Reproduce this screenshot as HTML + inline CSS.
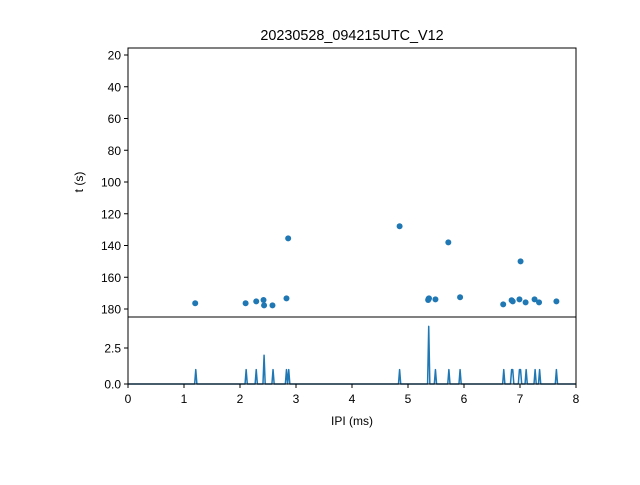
<!DOCTYPE html>
<html><head><meta charset="utf-8"><style>
body{margin:0;background:#fff}
svg text{font-family:"Liberation Sans","DejaVu Sans",sans-serif;fill:#000}
</style></head><body>
<svg id="c" width="640" height="480" xmlns="http://www.w3.org/2000/svg"></svg>
<script>
const ipi=[1.20,2.10,2.29,2.42,2.43,2.58,2.83,2.86,4.85,5.72,5.36,5.365,5.37,5.375,5.49,5.93,6.70,6.85,6.87,6.99,7.01,7.10,7.26,7.34,7.65];
const tsec=[176.4,176.4,175.2,174.3,177.7,177.7,173.3,135.5,127.9,138.0,174.3,173.8,173.5,173.3,173.9,172.6,177.1,174.5,175.2,173.9,150.0,175.8,173.9,175.8,175.2];
const xTicks=[0,1,2,3,4,5,6,7,8];
const tTicks=[20,40,60,80,100,120,140,160,180];
const cTicks=[0,2.5];
const binW=0.02;
const NS="http://www.w3.org/2000/svg";
const svg=document.getElementById('c');
const L=128,R=576,T1=48,B1=317,B2=384;
const xs=v=>L+(v-0)/8*(R-L);
const ts=v=>55+(v-20)*1.5875;
const cs=v=>B2-v*14.4;
function mk(tag,attrs,parent){const e=document.createElementNS(NS,tag);for(const k in attrs)e.setAttribute(k,attrs[k]);(parent||svg).appendChild(e);return e;}
// scatter
const g1=mk('g',{});


ipi.forEach((x,i)=>{const c=mk('circle',{cx:xs(x),cy:ts(tsec[i]),r:3,fill:'#1f77b4'},g1);

});
// histogram
const nb=Math.round(8/binW);const counts=new Array(nb).fill(0);
ipi.forEach(x=>{const b=Math.floor(x/binW+1e-9);if(b>=0&&b<nb)counts[b]++;});
let d='';for(let b=0;b<nb;b++){const x=xs((b+0.5)*binW),y=cs(counts[b]);d+=(b?'L':'M')+x.toFixed(2)+' '+y.toFixed(2);}
const hp=mk('path',{d:d,fill:'none',stroke:'#1f77b4','stroke-width':1.5,'stroke-linejoin':'round'});


// frames
const f1=mk('rect',{x:L,y:T1,width:R-L,height:B1-T1,fill:'none',stroke:'#000','stroke-width':1});


const f2=mk('rect',{x:L,y:B1,width:R-L,height:B2-B1,fill:'none',stroke:'#000','stroke-width':1});


// ticks
xTicks.forEach(v=>{mk('line',{x1:xs(v),x2:xs(v),y1:B2,y2:B2+4,stroke:'#000'});
const t=mk('text',{x:xs(v),y:B2+19,'font-size':12,'text-anchor':'middle'});t.textContent=v;

});
tTicks.forEach(v=>{mk('line',{x1:L-4,x2:L,y1:ts(v),y2:ts(v),stroke:'#000'});
const t=mk('text',{x:L-7,y:ts(v)+4.5,'font-size':12,'text-anchor':'end'});t.textContent=v;

});
cTicks.forEach(v=>{mk('line',{x1:L-4,x2:L,y1:cs(v),y2:cs(v),stroke:'#000'});
const t=mk('text',{x:L-7,y:cs(v)+4.5,'font-size':12,'text-anchor':'end'});t.textContent=v.toFixed(1);

});
const ti=mk('text',{x:352,y:40,'font-size':14.4,'text-anchor':'middle'});ti.textContent='20230528_094215UTC_V12';


const xl=mk('text',{x:352,y:425,'font-size':12,'text-anchor':'middle'});xl.textContent='IPI (ms)';


const yl=mk('text',{x:83,y:182,'font-size':12,'text-anchor':'middle',transform:'rotate(-90 83 182)'});yl.textContent='t (s)';


</script>
</body></html>
